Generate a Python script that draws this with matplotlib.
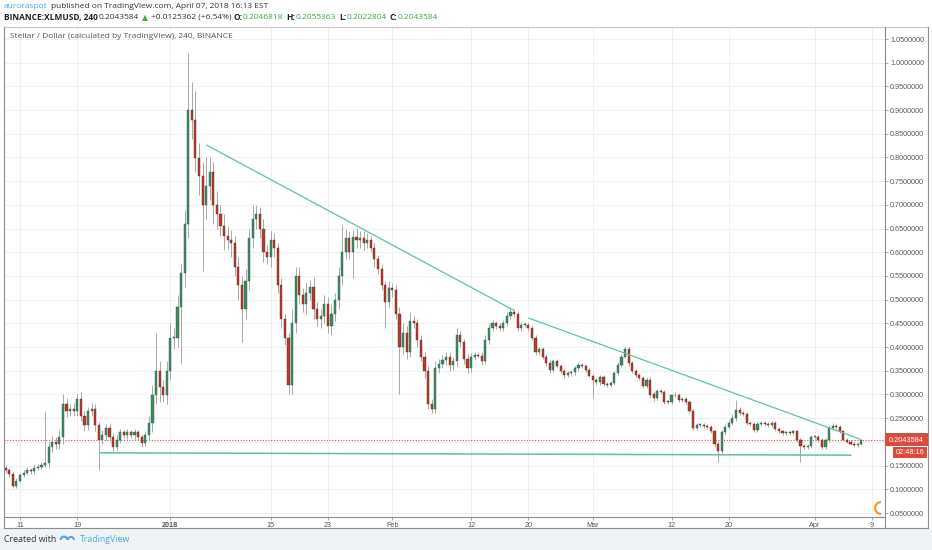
import matplotlib
matplotlib.use('Agg')
import matplotlib.pyplot as plt
import matplotlib.dates as mdates
from matplotlib.patches import Rectangle, Wedge
from matplotlib.lines import Line2D
from datetime import datetime, timedelta
import numpy as np

W, H = 932, 550

# ---------------- data (12h candles, XLM/USD) ----------------
start = datetime(2017, 12, 9)
open0 = 0.145
closes = [
    0.140, 0.132, 0.108, 0.118, 0.130, 0.135, 0.140, 0.138, 0.145, 0.148,
    0.152, 0.155, 0.190, 0.200, 0.195, 0.210, 0.280, 0.265, 0.270, 0.265,
    0.290, 0.255, 0.235, 0.265, 0.270, 0.235, 0.205, 0.215, 0.230, 0.210,
    0.190, 0.205, 0.220, 0.215, 0.220, 0.215, 0.220, 0.210, 0.198, 0.215,
    0.240, 0.300, 0.350, 0.315, 0.300, 0.350, 0.420, 0.420, 0.485, 0.556,
    0.660, 0.900, 0.880, 0.800, 0.760, 0.700, 0.740, 0.770, 0.700, 0.680,
    0.655, 0.635, 0.626, 0.620, 0.570, 0.530, 0.480, 0.540, 0.630, 0.670,
    0.680, 0.650, 0.600, 0.590, 0.625, 0.610, 0.530, 0.460, 0.420, 0.320,
    0.450, 0.550, 0.510, 0.490, 0.515, 0.527, 0.480, 0.460, 0.465, 0.490,
    0.445, 0.470, 0.500, 0.550, 0.600, 0.630, 0.600, 0.632, 0.625, 0.630,
    0.620, 0.625, 0.610, 0.585, 0.565, 0.530, 0.495, 0.525, 0.520, 0.470,
    0.400, 0.430, 0.390, 0.455, 0.450, 0.415, 0.380, 0.350, 0.280, 0.270,
    0.355, 0.365, 0.373, 0.380, 0.362, 0.370, 0.425, 0.410, 0.375, 0.355,
    0.380, 0.383, 0.382, 0.370, 0.415, 0.440, 0.450, 0.445, 0.440, 0.450,
    0.465, 0.475, 0.470, 0.440, 0.447, 0.447, 0.440, 0.420, 0.390, 0.395,
    0.380, 0.366, 0.352, 0.370, 0.360, 0.350, 0.341, 0.345, 0.347, 0.355,
    0.362, 0.360, 0.352, 0.340, 0.330, 0.326, 0.337, 0.322, 0.320, 0.325,
    0.345, 0.362, 0.380, 0.395, 0.366, 0.350, 0.341, 0.335, 0.318, 0.330,
    0.300, 0.292, 0.307, 0.305, 0.285, 0.284, 0.298, 0.300, 0.288, 0.290,
    0.285, 0.265, 0.230, 0.235, 0.236, 0.233, 0.232, 0.222, 0.195, 0.180,
    0.220, 0.232, 0.240, 0.250, 0.267, 0.260, 0.258, 0.240, 0.238, 0.225,
    0.238, 0.240, 0.238, 0.236, 0.240, 0.228, 0.222, 0.219, 0.220, 0.218,
    0.222, 0.205, 0.192, 0.190, 0.192, 0.210, 0.210, 0.204, 0.190, 0.204,
    0.230, 0.234, 0.232, 0.222, 0.205, 0.200, 0.196, 0.193, 0.195, 0.2043584,
]
wick_up = [
    .006, .005, .004, .006, .005, .005, .006, .005, .008, .006,
    .006, .108, .010, .012, .010, .015, .020, .012, .010, .012,
    .010, .015, .010, .008, .012, .010, .008, .010, .008, .010,
    .008, .010, .008, .006, .008, .006, .008, .006, .005, .008,
    .015, .020, .080, .020, .015, .020, .030, .020, .025, .020,
    .030, .120, .060, .060, .030, .030, .060, .030, .020, .030,
    .020, .025, .020, .020, .015, .020, .020, .025, .020, .030,
    .020, .015, .020, .015, .020, .015, .010, .015, .010, .010,
    .030, .020, .020, .015, .020, .015, .020, .015, .015, .020,
    .015, .020, .015, .020, .057, .020, .015, .015, .020, .015,
    .015, .015, .010, .010, .010, .010, .010, .015, .010, .010,
    .015, .020, .015, .020, .010, .010, .010, .010, .010, .010,
    .015, .010, .010, .010, .010, .010, .015, .010, .008, .010,
    .008, .006, .006, .008, .010, .008, .008, .006, .006, .008,
    .008, .008, .006, .006, .006, .005, .006, .005, .006, .006,
    .006, .005, .006, .005, .005, .005, .004, .005, .005, .006,
    .005, .005, .004, .004, .004, .005, .005, .004, .004, .004,
    .005, .006, .006, .006, .006, .005, .004, .005, .004, .006,
    .006, .005, .005, .004, .004, .004, .004, .005, .004, .004,
    .004, .004, .004, .004, .004, .004, .004, .004, .004, .006,
    .006, .006, .006, .008, .021, .006, .005, .005, .004, .004,
    .004, .004, .004, .004, .004, .004, .004, .004, .004, .004,
    .004, .004, .004, .004, .004, .005, .004, .004, .004, .004,
    .006, .005, .004, .004, .004, .003, .003, .003, .003, .0012,
]
wick_dn = [
    .005, .006, .005, .005, .005, .004, .005, .006, .005, .004,
    .005, .006, .010, .012, .010, .010, .015, .012, .010, .010,
    .010, .010, .012, .010, .010, .012, .065, .010, .010, .008,
    .010, .008, .008, .006, .008, .006, .008, .006, .008, .006,
    .010, .020, .020, .030, .015, .020, .020, .025, .020, .120,
    .030, .030, .040, .030, .040, .140, .030, .030, .040, .030,
    .020, .030, .020, .030, .020, .030, .070, .020, .020, .020,
    .020, .020, .020, .015, .020, .020, .015, .020, .015, .020,
    .020, .020, .020, .015, .020, .015, .020, .015, .020, .015,
    .015, .020, .015, .020, .020, .015, .015, .054, .015, .015,
    .015, .010, .010, .015, .010, .010, .055, .010, .015, .010,
    .100, .015, .015, .010, .010, .015, .010, .015, .010, .010,
    .010, .010, .010, .010, .012, .010, .010, .010, .010, .010,
    .008, .008, .006, .008, .006, .008, .006, .006, .006, .006,
    .006, .006, .006, .006, .006, .005, .006, .005, .006, .006,
    .006, .005, .006, .005, .005, .005, .006, .005, .005, .005,
    .005, .005, .004, .004, .037, .005, .005, .004, .004, .004,
    .005, .004, .005, .004, .006, .005, .004, .005, .004, .005,
    .008, .005, .004, .004, .004, .004, .004, .004, .004, .004,
    .004, .004, .005, .004, .004, .004, .004, .004, .006, .022,
    .006, .005, .004, .004, .005, .004, .004, .004, .004, .004,
    .004, .004, .004, .004, .004, .004, .004, .004, .004, .004,
    .004, .005, .034, .004, .004, .004, .004, .004, .004, .004,
    .004, .004, .004, .004, .004, .003, .003, .003, .003, .0016,
]
last_price = 0.2043584

# trendlines (date, price)
res1_dates = [datetime(2018, 1, 6, 2), datetime(2018, 2, 17, 22)]
res1_prices = [0.826, 0.478]
res2_dates = [datetime(2018, 2, 20, 2), datetime(2018, 4, 7, 7)]
res2_prices = [0.461, 0.206]
sup_dates = [datetime(2017, 12, 22, 5), datetime(2018, 4, 6, 0)]
sup_prices = [0.177, 0.172]

tick_dates = [datetime(2017, 12, 11), datetime(2017, 12, 19), datetime(2018, 1, 1),
              datetime(2018, 1, 15), datetime(2018, 1, 23), datetime(2018, 2, 1),
              datetime(2018, 2, 12), datetime(2018, 2, 20), datetime(2018, 3, 1),
              datetime(2018, 3, 12), datetime(2018, 3, 20), datetime(2018, 4, 1),
              datetime(2018, 4, 9)]
tick_labels = ['11', '19', '2018', '15', '23', 'Feb', '12', '20', 'Mar', '12', '20', 'Apr', '9']
price_ticks = [0.05, 0.10, 0.15, 0.20, 0.25, 0.30, 0.35, 0.40, 0.45, 0.50, 0.55,
               0.60, 0.65, 0.70, 0.75, 0.80, 0.85, 0.90, 0.95, 1.00, 1.05]

# ---------------- figure ----------------
fig = plt.figure(figsize=(W / 100, H / 100), dpi=100, facecolor='white')

def px(x, y):
    return x / W, 1 - y / H

# footer background
fig.patches.append(Rectangle((0, 0), 1, 22 / H, transform=fig.transFigure,
                             facecolor='#eff2f6', edgecolor='none', zorder=0))

ax = fig.add_axes([4 / W, 1 - 517 / H, (885 - 4) / W, (517 - 27) / H])
ax.set_facecolor('white')

n = len(closes)
t = mdates.date2num([start + timedelta(hours=12 * i) for i in range(n)])
opens = [open0] + closes[:-1]
for i in range(n):
    o, c = opens[i], closes[i]
    hi = max(o, c) + wick_up[i]
    lo = min(o, c) - wick_dn[i]
    ax.vlines(t[i], lo, hi, color='#a8a8a8', lw=0.7, zorder=2)
for i in range(n):
    o, c = opens[i], closes[i]
    up = c >= o
    h = max(abs(c - o), 0.002)
    b = min(o, c)
    ax.bar(t[i], h, bottom=b, width=0.30,
           color='#3f8a63' if up else '#b03e30',
           edgecolor='#2a5e43' if up else '#6e2219', linewidth=0.3, zorder=3)

tl_color = '#62c0a2'
ax.plot(mdates.date2num(res1_dates), res1_prices, color=tl_color, lw=0.9, zorder=4)
ax.plot(mdates.date2num(res2_dates), res2_prices, color=tl_color, lw=0.9, zorder=4)
ax.plot(mdates.date2num(sup_dates), sup_prices, color=tl_color, lw=1.1, zorder=4)

ax.axhline(last_price, color='#e0483a', lw=0.8, ls=(0, (1, 1.5)), zorder=1)

x0 = mdates.date2num(datetime(2017, 12, 11))
ax.set_xlim(x0 - 2.235, x0 + 120.81)
ax.set_ylim(0.05 + (513 - 517) / 474, 0.05 + (513 - 27) / 474)

ax.set_xticks(mdates.date2num(tick_dates))
ax.set_xticklabels(tick_labels)
ax.set_yticks(price_ticks)
# the 0.20 label is hidden behind the last-price marker in the original
ax.set_yticklabels(['' if abs(v - 0.20) < 1e-9 else '%.7f' % v for v in price_ticks])
ax.yaxis.tick_right()
ax.tick_params(axis='y', length=2.5, width=0.6, color='#9a9a9a', labelsize=5.2,
               labelcolor='#555555', pad=1.2)
ax.tick_params(axis='x', length=2.5, width=0.6, color='#9a9a9a', labelsize=5.2,
               labelcolor='#555555', pad=1.2)
for lbl in ax.get_xticklabels():
    lbl.set_fontfamily('Liberation Sans')
    if lbl.get_text() == '2018':
        lbl.set_fontweight('bold')
for lbl in ax.get_yticklabels():
    lbl.set_fontfamily('Liberation Sans')
ax.grid(True, color='#eceef1', lw=0.6, zorder=0)
ax.set_axisbelow(True)
for s in ['top', 'left', 'right']:
    ax.spines[s].set_visible(False)
ax.spines['bottom'].set_color('#8c8c8c')
ax.spines['bottom'].set_linewidth(0.8)

# frame lines
def fline(xs, ys, color='#8c8c8c', lw=0.8):
    fig.add_artist(Line2D([x / W for x in xs], [1 - y / H for y in ys],
                          color=color, lw=lw, transform=fig.transFigure))

fline([4, 928], [27, 27], color='#c8c8c8')
fline([4, 4], [27, 528])
fline([928, 928], [27, 528])
fline([4, 928], [528, 528])
fline([885, 885], [27, 528])

# price label boxes
fig.patches.append(Rectangle(px(885, 446), 43 / W, 13 / H, transform=fig.transFigure,
                             facecolor='#df4a3c', edgecolor='none', zorder=5))
fig.text(*px(906.5, 440), '0.2043584', color='white', fontsize=5.3,
         family='Liberation Sans', ha='center', va='center', zorder=6)
fig.patches.append(Rectangle(px(893, 458), 34 / W, 11 / H, transform=fig.transFigure,
                             facecolor='#df4a3c', edgecolor='none', zorder=5))
fig.text(*px(910, 452.5), '02:48:16', color='white', fontsize=5.3,
         family='Liberation Sans', ha='center', va='center', zorder=6)

# small orange logo at bottom-right of pane
fig.patches.append(Wedge((881, H - 508), 7, 90, 270, width=2.2, transform=None,
                         facecolor='#f39a2b', edgecolor='none', zorder=5))

# ---------------- header texts ----------------
hf = 'Open Sans'
def ptext(x, y, s, **kw):
    fig.text(x / W, 1 - y / H, s, ha='left', va='center', family=hf, **kw)

ptext(4, 7, 'auroraspot', color='#3fb0e3', fontsize=6.0)
ptext(51, 7, 'published on TradingView.com, April 07, 2018 16:13 EST', color='#333333', fontsize=6.0)

green = '#3aaa45'
ptext(4, 17.5, 'BINANCE:XLMUSD, 240', color='#222222', fontsize=6.0, fontweight='bold')
ptext(99, 17.5, '0.2043584', color='#333333', fontsize=6.0)
fig.text(142 / W, 1 - 17.5 / H, '\u25B2', color=green, fontsize=5.5, ha='left', va='center',
         family='DejaVu Sans')
ptext(151, 17.5, '+0.0125362 (+6.54%)', color='#333333', fontsize=6.0)
ptext(233, 17.5, 'O:', color='#222222', fontsize=6.0, fontweight='bold')
ptext(243, 17.5, '0.2046818', color=green, fontsize=6.0)
ptext(286, 17.5, 'H:', color='#222222', fontsize=6.0, fontweight='bold')
ptext(296, 17.5, '0.2055363', color=green, fontsize=6.0)
ptext(339, 17.5, 'L:', color='#222222', fontsize=6.0, fontweight='bold')
ptext(347, 17.5, '0.2022804', color=green, fontsize=6.0)
ptext(389, 17.5, 'C:', color='#222222', fontsize=6.0, fontweight='bold')
ptext(398, 17.5, '0.2043584', color=green, fontsize=6.0)

ptext(10, 36, 'Stellar / Dollar (calculated by TradingView), 240, BINANCE', color='#555555', fontsize=6.0)

# footer
ptext(4, 539, 'Created with', color='#333333', fontsize=6.3)
fig.patches.append(Wedge((64, H - 540), 4.5, 0, 180, width=2.2, transform=None,
                         facecolor='#4aa8dc', edgecolor='none'))
fig.patches.append(Wedge((71, H - 540), 4.0, 0, 180, width=2.0, transform=None,
                         facecolor='#4aa8dc', edgecolor='none'))
ptext(80, 539, 'TradingView', color='#4aa8dc', fontsize=6.3)

fig.savefig('out.png', dpi=100, facecolor=fig.get_facecolor())
